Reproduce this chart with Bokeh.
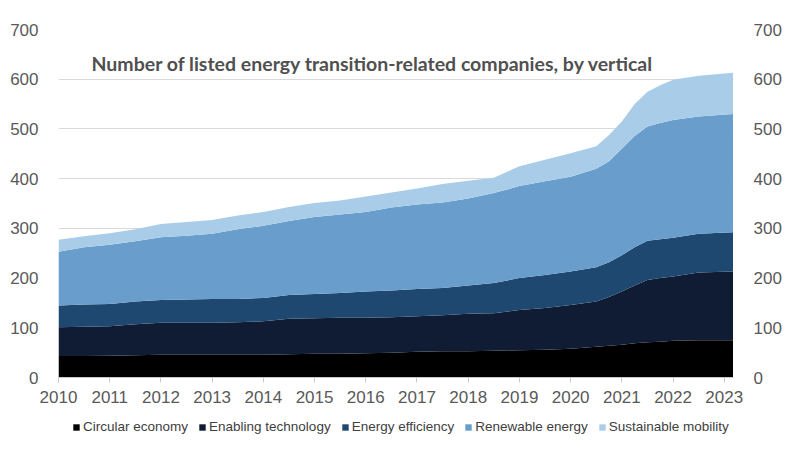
from bokeh.plotting import figure
from bokeh.layouts import column
from bokeh.models import ColumnDataSource, LinearAxis, Range1d, Legend, Label, FixedTicker
from bokeh.embed import file_html
from bokeh.resources import INLINE

# ---- data ----
years = [2010.0, 2010.5, 2011.0, 2011.5, 2012.0, 2012.5, 2013.0, 2013.5, 2014.0, 2014.5,
         2015.0, 2015.5, 2016.0, 2016.5, 2017.0, 2017.5, 2018.0, 2018.5, 2019.0, 2019.5,
         2020.0, 2020.5, 2020.75, 2021.0, 2021.25, 2021.5, 2021.75, 2022.0, 2022.5, 2023.17]
circular_economy = [43, 43, 44, 45, 46, 46, 46, 46, 46, 47, 48, 48, 49, 50, 52, 53, 53, 54, 55, 56,
                    58, 62, 64, 66, 69, 71, 72, 74, 75, 75]
enabling_technology = [58, 59, 59, 62, 64, 64, 64, 65, 67, 71, 71, 72, 71, 71, 71, 72, 75, 75, 81, 84,
                       88, 91, 98, 107, 116, 125, 128, 129, 136, 138]
energy_efficiency = [44, 45, 45, 46, 46, 47, 48, 47, 47, 48, 49, 50, 53, 54, 55, 55, 57, 61, 64, 66,
                     67, 69, 70, 73, 77, 79, 78, 78, 78, 79]
renewable_energy = [108, 115, 119, 121, 126, 128, 131, 140, 145, 149, 155, 158, 160, 167, 170, 172, 175, 181, 185, 189,
                    191, 198, 203, 214, 224, 230, 234, 237, 236, 238]
sustainable_mobility = [24, 22, 23, 24, 27, 28, 28, 28, 28, 28, 28, 28, 31, 30, 32, 37, 36, 31, 40, 43,
                        47, 45, 53, 55, 64, 70, 76, 81, 82, 83]

series_names = ["circ", "enab", "eff", "ren", "mob"]
series_labels = ["Circular economy", "Enabling technology", "Energy efficiency",
                 "Renewable energy", "Sustainable mobility"]
colors = ["#000000", "#0f1c33", "#1f4870", "#699dcb", "#a9cde8"]

year_ticks = list(range(2010, 2024))
y_ticks = list(range(0, 701, 100))

source = ColumnDataSource(dict(x=years, circ=circular_economy, enab=enabling_technology,
                               eff=energy_efficiency, ren=renewable_energy, mob=sustainable_mobility))

p = figure(width=784, height=405, output_backend="svg", toolbar_location=None,
           x_range=Range1d(2010, 2023.18), y_range=Range1d(0, 700),
           min_border_left=58, min_border_right=41, min_border_top=29, min_border_bottom=27,
           outline_line_color=None)

rs = p.varea_stack(stackers=series_names, x="x", color=colors, source=source)

TICK_COLOR = "#595959"
FONT = "Liberation Sans"

def style_y(ax):
    ax.ticker = FixedTicker(ticks=y_ticks)
    ax.axis_line_color = None
    ax.major_tick_line_color = None
    ax.minor_tick_line_color = None
    ax.major_label_standoff = 14
    ax.major_label_text_font = FONT
    ax.major_label_text_font_size = "17px"
    ax.major_label_text_color = TICK_COLOR

style_y(p.yaxis[0])
ax_r = LinearAxis()
style_y(ax_r)
p.add_layout(ax_r, "right")

xa = p.xaxis[0]
xa.ticker = FixedTicker(ticks=year_ticks)
xa.axis_line_color = "#c8c8c8"
xa.major_tick_line_color = "#c8c8c8"
xa.major_tick_in = 0
xa.major_tick_out = 5
xa.minor_tick_line_color = None
xa.major_label_standoff = 8
xa.major_label_text_font = FONT
xa.major_label_text_font_size = "17px"
xa.major_label_text_color = TICK_COLOR

p.xgrid.grid_line_color = None
p.ygrid.ticker = FixedTicker(ticks=y_ticks)
p.ygrid.grid_line_color = "#d9d9d9"

# title inside plot
title = Label(x=33, y=314, x_units="screen", y_units="screen",
              text="Number of listed energy transition-related companies, by vertical",
              text_font="Lato", text_font_style="bold", text_font_size="19.5px",
              text_color="#505050", text_baseline="alphabetic")
p.add_layout(title)

# legend strip below the chart (its stacked areas lie outside its visible range)
lg = figure(width=784, height=30, output_backend="svg", toolbar_location=None,
            x_range=Range1d(0, 1), y_range=Range1d(0, 1),
            x_axis_location=None, y_axis_location=None, outline_line_color=None,
            min_border_left=0, min_border_right=0, min_border_top=0, min_border_bottom=0)
lg.xgrid.grid_line_color = None
lg.ygrid.grid_line_color = None
keys = lg.varea_stack(stackers=series_names, x="x", color=colors, source=source)

legend = Legend(items=[(lab, [r]) for lab, r in zip(series_labels, keys)],
                orientation="horizontal", location=(14, 1))
legend.glyph_width = 8
legend.glyph_height = 8
legend.label_standoff = 3
legend.spacing = 10
legend.padding = 0
legend.margin = 0
legend.border_line_color = None
legend.background_fill_alpha = 0
legend.label_text_font = FONT
legend.label_text_font_size = "13.5px"
legend.label_text_color = "#404040"
legend.label_height = 14
lg.add_layout(legend)

open("out.html", "w").write(file_html(column(p, lg, spacing=0), INLINE))
